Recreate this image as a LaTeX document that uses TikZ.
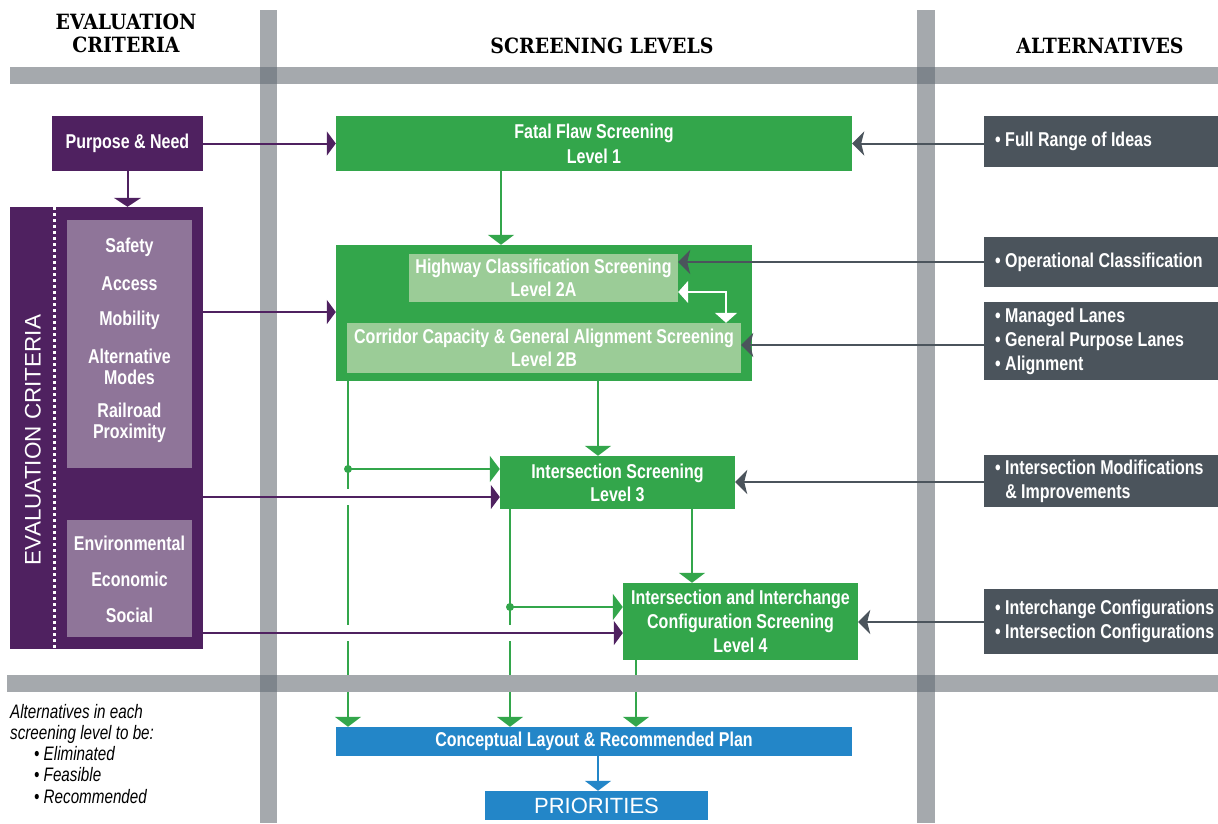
\documentclass[tikz,border=0pt]{standalone}
\usepackage{fontspec}
\setmainfont{Liberation Sans}
\newfontfamily\condf{Liberation Sans Bold}[FakeStretch=0.8]
\newfontfamily\condn{Liberation Sans Italic}[FakeStretch=0.78]
\newfontfamily\hdrf{DejaVu Serif Bold}[FakeStretch=0.9]
\usetikzlibrary{arrows.meta}
\definecolor{cPurple}{HTML}{4F2160}
\definecolor{cLPurple}{HTML}{8F7599}
\definecolor{cGreen}{HTML}{33A64B}
\definecolor{cLGreen}{HTML}{9BCC97}
\definecolor{cBlue}{HTML}{2386C8}
\definecolor{cDark}{HTML}{4B545C}
\definecolor{cBar}{HTML}{A5A9AD}
\definecolor{cBarX}{HTML}{7E858C}
\tikzset{
  txt/.style={font=\condf\fontsize{20}{24}\selectfont, text=white, align=center, inner sep=0pt},
  hdr/.style={font=\hdrf\fontsize{21}{23}\selectfont, text=black, align=center, inner sep=0pt},
  boxx/.style={inner sep=0pt, draw=none},
  gbox/.style={boxx, fill=cGreen, txt},
  lgbox/.style={boxx, fill=cLGreen, txt, font=\condf\fontsize{20}{23}\selectfont},
  pbox/.style={boxx, fill=cPurple, txt},
  lpbox/.style={boxx, fill=cLPurple},
  dbox/.style={boxx, fill=cDark},
  bbox/.style={boxx, fill=cBlue, txt},
  alttxt/.style={txt, align=left, anchor=west},
  gline/.style={draw=cGreen, line width=2pt},
  garrow/.style={gline, -{Triangle[width=26pt,length=10pt]}},
  barrow/.style={draw=cBlue, line width=2pt, -{Triangle[width=26pt,length=10pt]}},
  parrow/.style={draw=cPurple, line width=2pt, -{Triangle[width=24pt,length=9pt]}},
  darrow/.style={draw=cDark, line width=2pt, -{Stealth[width=24pt,length=12pt,inset=3pt]}},
  warrow/.style={draw=white, line width=2pt, {Triangle[width=22pt,length=10pt]}-{Triangle[width=22pt,length=10pt]}},
}
\begin{document}
\begin{tikzpicture}[x=1pt,y=-1pt]
\useasboundingbox (0,0) rectangle (1218,823);
\fill[white] (0,0) rectangle (1218,823);

% headers
\node[hdr] (hEC) at (126,33.5) {EVALUATION\\CRITERIA};
\node[hdr] (hSL) at (602,46) {SCREENING LEVELS};
\node[hdr] (hAL) at (1100,46) {ALTERNATIVES};

% evaluation criteria column
\node[pbox, minimum width=151pt, minimum height=55pt] (pn) at (127.5,143.5) {Purpose \& Need};
\node[boxx, fill=cPurple, minimum width=193pt, minimum height=442pt] (ec) at (106.5,428) {};
\node[lpbox, minimum width=125pt, minimum height=248pt] (ec1) at (129.5,344) {};
\node[lpbox, minimum width=125pt, minimum height=117pt] (ec2) at (129.5,578.5) {};
\draw[white, line width=3pt, dash pattern=on 3pt off 3pt] (54,207) -- (54,649);
\node[txt, rotate=90, font=\fontsize{22.5}{24}\selectfont] (ectitle) at (33,440) {EVALUATION CRITERIA};
\node[txt] (tsaf) at (129.5,247) {Safety};
\node[txt] (tacc) at (129.5,284) {Access};
\node[txt] (tmob) at (129.5,320) {Mobility};
\node[txt, font=\condf\fontsize{20}{20.5}\selectfont] (talt) at (129.5,367) {Alternative\\Modes};
\node[txt, font=\condf\fontsize{20}{20.5}\selectfont] (trail) at (129.5,423) {Railroad\\Proximity};
\node[txt] (tenv) at (129.5,543) {Environmental};
\node[txt] (teco) at (129.5,579) {Economic};
\node[txt] (tsoc) at (129.5,615) {Social};

% screening levels
\node[gbox, minimum width=516pt, minimum height=55pt, font=\condf\fontsize{20}{25}\selectfont] (ff) at (594,143.5) {Fatal Flaw Screening\\Level 1};
\node[boxx, fill=cGreen, minimum width=416pt, minimum height=136pt] (l2) at (544,313) {};
\node[lgbox, minimum width=269pt, minimum height=48pt] (l2a) at (543.5,278) {Highway Classification Screening\\Level 2A};
\node[lgbox, minimum width=394pt, minimum height=50pt] (l2b) at (544,348) {Corridor Capacity \& General Alignment Screening\\Level 2B};
\node[gbox, minimum width=235pt, minimum height=53pt, font=\condf\fontsize{20}{23}\selectfont] (l3) at (617.5,482.5) {Intersection Screening\\Level 3};
\node[gbox, minimum width=235pt, minimum height=77pt] (l4) at (740.5,621.5) {Intersection and Interchange\\Configuration Screening\\Level 4};
\node[bbox, minimum width=516pt, minimum height=29pt] (cl) at (594,741.5) {Conceptual Layout \& Recommended Plan};
\node[bbox, minimum width=223pt, minimum height=29pt, font=\fontsize{22}{24}\selectfont] (pr) at (596.5,805.5) {PRIORITIES};

% alternatives
\node[dbox, minimum width=234pt, minimum height=51pt] (a1) at (1101,141.5) {};
\node[alttxt] (a1t) at (995,141.5) {• Full Range of Ideas};
\node[dbox, minimum width=234pt, minimum height=50pt] (a2) at (1101,262) {};
\node[alttxt] (a2t) at (995,262) {• Operational Classification};
\node[dbox, minimum width=234pt, minimum height=78pt] (a3) at (1101,341) {};
\node[alttxt] (a3t) at (995,341) {• Managed Lanes\\• General Purpose Lanes\\• Alignment};
\node[dbox, minimum width=234pt, minimum height=52pt] (a4) at (1101,481) {};
\node[alttxt] (a4t) at (995,481) {• Intersection Modifications\\\phantom{• }\& Improvements};
\node[dbox, minimum width=234pt, minimum height=65pt] (a5) at (1101,621.5) {};
\node[alttxt] (a5t) at (995,621) {• Interchange Configurations\\• Intersection Configurations};

% note
\node[anchor=north west, align=left, inner sep=0pt, font=\condn\fontsize{19.5}{21.2}\selectfont] (note) at (10,704)
 {Alternatives in each\\screening level to be:\\\hspace{24pt}• Eliminated\\\hspace{24pt}• Feasible\\\hspace{24pt}• Recommended};

% green connectors
\coordinate (x348) at (348,0);
\coordinate (x501) at (501,0);
\coordinate (x510) at (510,0);
\coordinate (x598) at (598,0);
\coordinate (x636) at (636,0);
\coordinate (x692) at (692,0);
\coordinate (x726) at (726,0);
\draw[garrow] (ff.south -| x501) -- (l2.north -| x501);
\draw[garrow] (l2.south -| x598) -- (l3.north -| x598);
\draw[garrow] (l2.south -| x348) -- (cl.north -| x348);
\coordinate (d1) at (348,469);
\fill[cGreen] (d1) circle (4);
\draw[garrow] (d1) -- (l3.west |- d1);
\draw[garrow] (l3.south -| x510) -- (cl.north -| x510);
\coordinate (d2) at (510,607);
\fill[cGreen] (d2) circle (4);
\draw[garrow] (d2) -- (l4.west |- d2);
\draw[garrow] (l3.south -| x692) -- (l4.north -| x692);
\draw[garrow] (l4.south -| x636) -- (cl.north -| x636);
\draw[barrow] (cl.south -| x598) -- (pr.north -| x598);

% bars
\fill[cBar] (10,67) rectangle (1218,84);
\fill[cBar] (7,675) rectangle (1218,692);
\fill[cBar] (260,10) rectangle (277,823);
\fill[cBar] (917,10) rectangle (935,823);
\fill[cBarX] (260,67) rectangle (277,84);
\fill[cBarX] (917,67) rectangle (935,84);
\fill[cBarX] (260,675) rectangle (277,692);
\fill[cBarX] (917,675) rectangle (935,692);

% gaps where purple lines cross green lines
\fill[white] (342,489) rectangle (354,505);
\fill[white] (342,625) rectangle (354,641);
\fill[white] (504,625) rectangle (516,641);

% purple connectors
\coordinate (y312) at (0,312);
\coordinate (y497) at (0,497);
\coordinate (y633) at (0,633);
\draw[parrow] (pn.east) -- (ff.west);
\draw[draw=cPurple, line width=2pt, -{Triangle[width=27pt,length=9pt]}] (pn.south) -- (ec.north -| pn.south);
\draw[parrow] (ec.east |- y312) -- (l2.west |- y312);
\draw[parrow] (ec.east |- y497) -- (l3.west |- y497);
\draw[parrow] (ec.east |- y633) -- (l4.west |- y633);

% dark connectors
\coordinate (y262) at (0,262);
\coordinate (y345) at (0,345);
\coordinate (y482) at (0,482);
\coordinate (y622) at (0,622);
\coordinate (y292) at (0,292);
\draw[darrow] (a1.west |- ff.east) -- (ff.east);
\draw[darrow] (a2.west |- y262) -- (l2a.east |- y262);
\draw[darrow] (a3.west |- y345) -- (l2b.east |- y345);
\draw[darrow] (a4.west |- y482) -- (l3.east |- y482);
\draw[darrow] (a5.west |- y622) -- (l4.east |- y622);

% white double arrow between 2A and 2B
\draw[warrow] (l2a.east |- y292) -| (l2b.north -| x726);
\end{tikzpicture}
\end{document}
